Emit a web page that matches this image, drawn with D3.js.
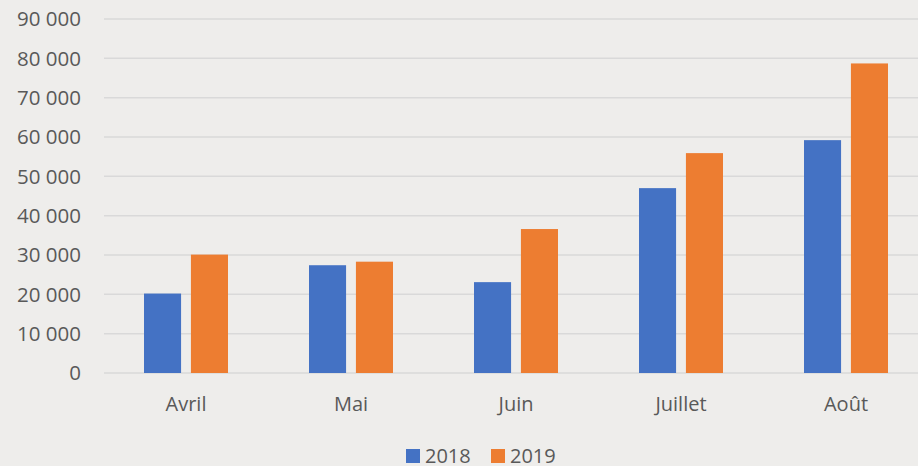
<!DOCTYPE html>
<html lang="fr">
<head>
    <meta charset="UTF-8">
    <title>Chart</title>
    <script src="https://d3js.org/d3.v7.min.js"></script>
    <style>
        body { margin: 0; background: #eeedeb; }
        svg { display: block; }
    </style>
</head>
<body>
    <svg class="chart"></svg>
    <script>
        const months = ['Avril', 'Mai', 'Juin', 'Juillet', 'Août']
        const series = ['2018', '2019']
        const values2018 = [20200, 27400, 23100, 47000, 59200]
        const values2019 = [30100, 28300, 36600, 55900, 78700]
        const yTicks = [0, 10000, 20000, 30000, 40000, 50000, 60000, 70000, 80000, 90000]
        const colors = ['#4472c4', '#ed7d31']

        const W = 918, H = 466
        const svg = d3.select('.chart').attr('width', W).attr('height', H)
        const font = '"Open Sans", sans-serif'
        const textColor = '#595959'

        // scales
        const x = d3.scaleBand().domain(months).range([103.5, 928.5])
        const xs = d3.scaleBand().domain(series).range([40.5, 124.5]).paddingInner(0.21)
        const y = d3.scaleLinear().domain([0, 90000]).range([373, 19])

        // grid
        svg.append('g')
            .selectAll('line')
            .data(yTicks)
            .enter()
            .append('line')
            .attr('x1', 104)
            .attr('x2', W)
            .attr('y1', d => y(d))
            .attr('y2', d => y(d))
            .attr('stroke', '#d9d9d9')
            .attr('stroke-width', 1.5)

        // y axis labels
        const fmt = d => d3.format(',')(d).replace(/,/g, ' ')
        svg.append('g')
            .selectAll('text')
            .data(yTicks)
            .enter()
            .append('text')
            .attr('x', 81)
            .attr('y', d => y(d))
            .attr('dy', '0.35em')
            .attr('text-anchor', 'end')
            .attr('font-family', font)
            .attr('font-size', 20.5)
            .attr('fill', textColor)
            .text(fmt)

        // bars
        const rows = months.map((m, i) => ({ month: m, vals: [values2018[i], values2019[i]] }))
        const groups = svg.append('g')
            .selectAll('g')
            .data(rows)
            .enter()
            .append('g')
            .attr('transform', d => `translate(${x(d.month)},0)`)

        groups.selectAll('rect')
            .data(d => d.vals.map((v, j) => ({ s: series[j], v: v, j: j })))
            .enter()
            .append('rect')
            .attr('x', d => xs(d.s))
            .attr('width', xs.bandwidth())
            .attr('y', d => y(d.v))
            .attr('height', d => y(0) - y(d.v))
            .attr('fill', d => colors[d.j])

        // category labels
        svg.append('g')
            .selectAll('text')
            .data(months)
            .enter()
            .append('text')
            .attr('x', d => x(d) + x.bandwidth() / 2)
            .attr('y', 411)
            .attr('text-anchor', 'middle')
            .attr('font-family', font)
            .attr('font-size', 20)
            .attr('fill', textColor)
            .text(d => d)

        // legend
        const legend = svg.append('g')
            .selectAll('g')
            .data(series)
            .enter()
            .append('g')
            .attr('transform', (d, i) => `translate(${406 + i * 85},448)`)
        legend.append('rect')
            .attr('width', 14)
            .attr('height', 14)
            .attr('y', 1)
            .attr('fill', (d, i) => colors[i])
        legend.append('text')
            .attr('x', 19)
            .attr('y', 15)
            .attr('font-family', font)
            .attr('font-size', 20)
            .attr('fill', textColor)
            .text(d => d)
    </script>
</body>
</html>
